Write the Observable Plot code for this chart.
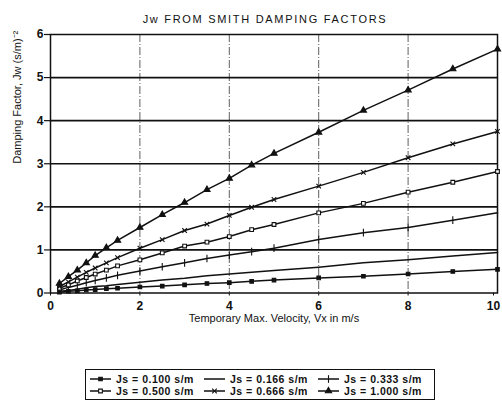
<!DOCTYPE html>
<html><head><meta charset="utf-8">
<script src="https://cdn.jsdelivr.net/npm/d3@7"></script>
<script src="https://cdn.jsdelivr.net/npm/@observablehq/plot@0.6"></script>
<style>
body{margin:0;background:#fff;font-family:"Liberation Sans",Arial,sans-serif;}
#wrap{position:relative;width:502px;height:405px;overflow:hidden;}
#title{position:absolute;left:0;top:13px;width:530px;text-align:center;font-size:11px;color:#111;letter-spacing:1.7px;}
#chart{position:absolute;left:0;top:26px;}
#legend{position:absolute;left:85px;top:369px;width:350px;height:31px;border:1.5px solid #111;box-sizing:border-box;font-size:10.5px;font-weight:bold;color:#111;letter-spacing:0.5px;}
.item{position:absolute;display:flex;align-items:center;white-space:nowrap;height:12px;}
.item svg{margin-right:5px;}
</style></head>
<body><div id="wrap">
<div id="title"></div>
<div id="chart"></div>
<div id="legend"></div>
</div>
<script>
// ---- data ----
const vx = [0.2,0.4,0.6,0.8,1,1.25,1.5,2,2.5,3,3.5,4,4.5,5,6,7,8,9,10];
const js100 = [0.02,0.04,0.05,0.07,0.08,0.10,0.11,0.14,0.16,0.19,0.22,0.24,0.27,0.30,0.35,0.39,0.44,0.50,0.55];
const js166 = [0.04,0.06,0.09,0.12,0.15,0.17,0.20,0.25,0.30,0.34,0.40,0.44,0.48,0.52,0.60,0.70,0.77,0.86,0.94];
const js333 = [0.07,0.13,0.18,0.24,0.29,0.35,0.41,0.51,0.61,0.70,0.80,0.88,0.96,1.04,1.24,1.40,1.52,1.69,1.86];
const js500 = [0.11,0.19,0.28,0.36,0.44,0.53,0.63,0.77,0.93,1.09,1.18,1.31,1.47,1.59,1.86,2.08,2.34,2.57,2.82];
const js666 = [0.15,0.26,0.37,0.48,0.58,0.70,0.82,1.04,1.24,1.45,1.60,1.80,1.99,2.17,2.48,2.80,3.14,3.46,3.75];
const js1000 = [0.22,0.38,0.53,0.70,0.87,1.05,1.22,1.52,1.82,2.10,2.40,2.66,2.97,3.24,3.73,4.24,4.71,5.20,5.66];
const seriesNames = ["Js = 0.100 s/m","Js = 0.166 s/m","Js = 0.333 s/m","Js = 0.500 s/m","Js = 0.666 s/m","Js = 1.000 s/m"];
const xTicks = [0,2,4,6,8,10];
const yTicks = [0,1,2,3,4,5,6];
const titleText = "Jw FROM SMITH DAMPING FACTORS";
const xLabel = "Temporary Max. Velocity, Vx in m/s";
const yLabel = "Damping Factor, Jw (s/m)⁻²";

// ---- styles (not data) ----
const vtick = {draw(ctx, size){const h=Math.sqrt(size)*0.9; ctx.moveTo(0,-h); ctx.lineTo(0,h);}};
const styles = [
  {symbol:"square", fill:"#111", stroke:"#111", r:2.0},
  null,
  {symbol:vtick, fill:"none", stroke:"#111", r:2.4},
  {symbol:"square", fill:"white", stroke:"#111", r:2.1},
  {symbol:"times", fill:"none", stroke:"#111", r:2.2},
  {symbol:"triangle", fill:"#111", stroke:"#111", r:2.3}
];

const allSeries = [js100, js166, js333, js500, js666, js1000];
const rows = [];
allSeries.forEach((vals, k) => vx.forEach((x, i) => rows.push({x, y: vals[i], s: seriesNames[k], k})));

document.getElementById("title").textContent = titleText;

const marks = [
  Plot.gridX(xTicks.slice(1,-1), {stroke:"#222", strokeOpacity:0.9, strokeWidth:0.8, strokeDasharray:"8,2,1,2"}),
  Plot.gridY(yTicks.slice(1,-1), {stroke:"#111", strokeOpacity:1, strokeWidth:1.6}),
  Plot.frame({stroke:"#111", strokeWidth:1.5}),
  Plot.axisY(yTicks, {tickSize:6, tickPadding:1, fontWeight:"bold", fontSize:12, label:null, strokeWidth:1.2}),
  Plot.axisX(xTicks.slice(0,-1), {tickSize:3, tickPadding:5, fontWeight:"bold", fontSize:12, label:null}),
  Plot.axisX(xTicks.slice(-1), {tickSize:3, tickPadding:5, fontWeight:"bold", fontSize:12, label:null, dx:-4}),
  Plot.text([xLabel], {text:d=>d, frameAnchor:"bottom", dy:29, fontSize:11, fill:"#111"}),
  Plot.text([yLabel], {text:d=>d, frameAnchor:"left", dx:-33, rotate:-90, fontSize:11, fill:"#111"}),
  Plot.line(rows, {x:"x", y:"y", z:"s", stroke:"#111", strokeWidth:1.5, curve:"linear"})
];
styles.forEach((st, k) => {
  if (!st) return;
  marks.push(Plot.dot(rows.filter(d => d.k === k), {x:"x", y:"y", symbol:()=>st.symbol, r:st.r, fill:st.fill, stroke:st.stroke, strokeWidth:1.1}));
});

const chart = Plot.plot({
  width: 502, height: 310,
  marginLeft: 50, marginRight: 5, marginTop: 8, marginBottom: 43.5,
  style: {fontFamily:"'Liberation Sans', Arial, sans-serif", color:"#111", background:"white"},
  x: {domain:[0,10]},
  y: {domain:[0,6]},
  symbol: {type:"identity"},
  marks
});
document.getElementById("chart").appendChild(chart);

// ---- legend ----
const legend = document.getElementById("legend");
const lefts = [4, 118, 232];
const tops = [3, 15];
const order = [[0,1,2],[3,4,5]];
order.forEach((r, ri) => {
  r.forEach((k, ci) => {
    const it = document.createElement("div"); it.className = "item";
    it.style.left = lefts[ci] + "px"; it.style.top = tops[ri] + "px";
    const sw = d3.create("svg").attr("width", 21).attr("height", 10);
    sw.append("line").attr("x1",0).attr("x2",21).attr("y1",5).attr("y2",5).attr("stroke","#111").attr("stroke-width",1.5);
    const st = styles[k];
    if (st) {
      const sym = typeof st.symbol === "string" ? {square:d3.symbolSquare, times:d3.symbolTimes, triangle:d3.symbolTriangle}[st.symbol] : st.symbol;
      sw.append("path").attr("transform","translate(10.5,5)").attr("d", d3.symbol(sym, st.r*st.r*Math.PI)())
        .attr("fill", st.fill).attr("stroke", st.stroke).attr("stroke-width",1.1);
    }
    it.appendChild(sw.node());
    const t = document.createElement("span"); t.textContent = seriesNames[k];
    it.appendChild(t);
    legend.appendChild(it);
  });
});
</script>
</body></html>
